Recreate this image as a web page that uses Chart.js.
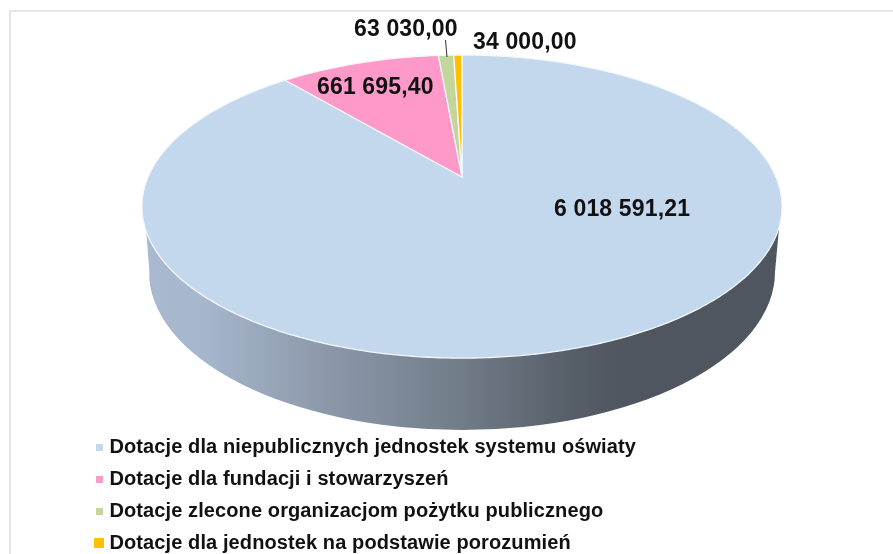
<!DOCTYPE html>
<html>
<head>
<meta charset="utf-8">
<script src="https://cdn.jsdelivr.net/npm/chart.js@4"></script>
<style>
  html, body { margin: 0; padding: 0; background: #fff; overflow: hidden; }
  #box { position: relative; width: 893px; height: 554px; }
  #myChart { display: block; filter: blur(0.5px); }
</style>
</head>
<body>
<div id="box"><canvas id="myChart" width="893" height="554"></canvas></div>
<script>
const categories = [
    'Dotacje dla niepublicznych jednostek systemu oświaty',
    'Dotacje dla fundacji i stowarzyszeń',
    'Dotacje zlecone organizacjom pożytku publicznego',
    'Dotacje dla jednostek na podstawie porozumień'
];
const values = [6018591.21, 661695.40, 63030.00, 34000.00];
const valueLabels = ['6 018 591,21', '661 695,40', '63 030,00', '34 000,00'];
const colors = ['#c3d7ed', '#fe99c9', '#c3d69b', '#ffc000'];

// where the value labels sit (left edge, middle)
const labelSpots = [[554, 210], [317, 88], [354, 30], [473, 43]];
const legendMarkSize = [7, 7, 7, 10];

// perspective of the top face: circle -> ellipse with the apex above its centre
const cx = 462, cy = 177;
const persp = -0.195, radiusX = 313.9, radiusY = 145.8;

const project = (angle) => {
    const c = Math.cos(angle), s = Math.sin(angle);
    const w = 1 + persp * s;
    return [cx + radiusX * c / w, cy + radiusY * s / w];
};

const squareMark = (color, size) => {
    const c = document.createElement('canvas');
    c.width = size;
    c.height = size;
    const g = c.getContext('2d');
    g.fillStyle = color;
    g.fillRect(0, 0, size, size);
    return c;
};

const drawWall = (ctx) => {
    const grad = ctx.createLinearGradient(145, 0, 780, 0);
    grad.addColorStop(0, '#a9b9d0');
    grad.addColorStop(0.09, '#a6b6cd');
    grad.addColorStop(0.28, '#8d99ab');
    grad.addColorStop(0.5, '#717c88');
    grad.addColorStop(0.68, '#555d67');
    grad.addColorStop(0.75, '#4f565f');
    grad.addColorStop(1, '#4f565f');
    ctx.beginPath();
    ctx.moveTo(144, 215);
    ctx.lineTo(146, 228);
    ctx.lineTo(150, 280);
    ctx.ellipse(462, 272, 313, 158, 0, Math.PI, 0, true);
    ctx.lineTo(779, 228);
    ctx.lineTo(780, 215);
    ctx.closePath();
    ctx.fillStyle = grad;
    ctx.fill();
};

const drawSlice = (ctx, arc, color) => {
    const steps = Math.max(4, Math.ceil((arc.endAngle - arc.startAngle) / 0.01));
    ctx.beginPath();
    ctx.moveTo(cx, cy);
    for (let i = 0; i <= steps; i++) {
        const p = project(arc.startAngle + (arc.endAngle - arc.startAngle) * i / steps);
        ctx.lineTo(p[0], p[1]);
    }
    ctx.closePath();
    ctx.fillStyle = color;
    ctx.fill();
    ctx.strokeStyle = '#f4f7fb';
    ctx.lineWidth = 1.3;
    ctx.lineJoin = 'round';
    ctx.stroke();
};

const tiltedPie = {
    id: 'tiltedPie',
    afterLayout(chart) {
        // legend goes under the pie, not beside it
        const legend = chart.legend;
        legend.left = 86.5;
        legend.right = 880;
        legend.top = 425;
        legend.bottom = 800;
    },
    beforeDraw(chart) {
        const ctx = chart.ctx;
        ctx.save();
        ctx.fillStyle = '#e6e6e6';
        ctx.fillRect(9, 10, 884, 2);
        ctx.fillRect(9, 10, 2, 544);
        ctx.restore();
        ctx.letterSpacing = '0.1px'; // legend text runs a bit wide in the original
    },
    beforeDatasetDraw(chart, args) {
        const ctx = chart.ctx;
        ctx.save();
        drawWall(ctx);
        args.meta.data.forEach((arc, i) => drawSlice(ctx, arc, colors[i]));
        ctx.restore();
        return false;
    },
    afterDatasetsDraw(chart) {
        const ctx = chart.ctx;
        ctx.save();
        ctx.strokeStyle = '#333';
        ctx.lineWidth = 1;
        ctx.beginPath();
        ctx.moveTo(445.5, 40);
        ctx.lineTo(447, 57);
        ctx.stroke();
        ctx.fillStyle = '#111';
        ctx.font = 'bold 23px "Liberation Sans", Arial, sans-serif';
        ctx.letterSpacing = '0.15px';
        ctx.textBaseline = 'middle';
        valueLabels.forEach((t, i) => ctx.fillText(t, labelSpots[i][0], labelSpots[i][1]));
        ctx.restore();
    }
};

const myChart = new Chart(document.getElementById('myChart'), {
    type: 'pie',
    data: {
        labels: categories,
        datasets: [{ data: values, backgroundColor: colors, borderWidth: 0 }]
    },
    options: {
        responsive: false,
        animation: false,
        plugins: {
            tooltip: { enabled: false },
            legend: {
                position: 'left',
                align: 'start',
                maxWidth: 790,
                labels: {
                    color: '#111',
                    font: { family: '"Liberation Sans", Arial, sans-serif', size: 20, weight: 'bold', lineHeight: 1.2 },
                    usePointStyle: true,
                    boxWidth: 1,
                    padding: 12,
                    generateLabels: () => categories.map((name, i) => ({
                        text: name,
                        fontColor: '#111',
                        pointStyle: squareMark(colors[i], legendMarkSize[i]),
                        lineWidth: 0,
                        index: i
                    }))
                }
            }
        }
    },
    plugins: [tiltedPie]
});
</script>
</body>
</html>
